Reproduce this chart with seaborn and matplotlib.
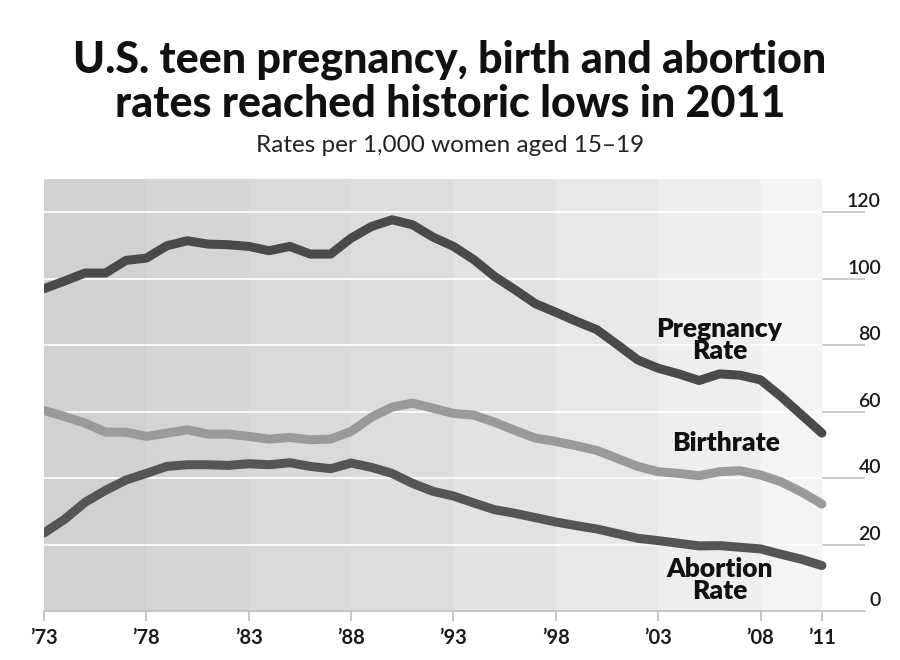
import numpy as np
import pandas as pd
import matplotlib
matplotlib.use("Agg")
import matplotlib.pyplot as plt
import matplotlib.transforms as mtransforms
import seaborn as sns

# ---------- DATA ----------
years = list(range(1973, 2012))

pregnancy = [97.0, 99.3, 101.7, 101.7, 105.5, 106.2, 109.9, 111.4, 110.4, 110.2,
             109.7, 108.4, 109.7, 107.4, 107.4, 112.2, 115.7, 117.7, 116.2, 112.5,
             109.7, 105.7, 100.7, 96.7, 92.5, 89.9, 87.2, 84.7, 80.2, 75.6,
             73.1, 71.4, 69.4, 71.4, 71.0, 69.6, 64.6, 59.1, 53.6]

birthrate = [60.4, 58.6, 56.6, 53.9, 53.9, 52.6, 53.6, 54.6, 53.3, 53.3,
             52.6, 51.8, 52.3, 51.6, 51.8, 54.1, 58.4, 61.4, 62.6, 61.1,
             59.5, 59.0, 56.9, 54.4, 52.1, 51.1, 49.8, 48.4, 46.0, 43.6,
             42.0, 41.5, 40.8, 42.0, 42.3, 41.0, 39.0, 35.9, 32.3]

abortion = [23.6, 27.7, 32.8, 36.4, 39.5, 41.5, 43.6, 44.1, 44.1, 43.9,
            44.4, 44.1, 44.7, 43.6, 42.9, 44.6, 43.3, 41.5, 38.5, 36.1,
            34.7, 32.6, 30.6, 29.5, 28.2, 26.9, 25.8, 24.8, 23.4, 22.0,
            21.3, 20.5, 19.7, 19.8, 19.3, 18.8, 17.2, 15.7, 13.8]

tick_years = [1973, 1978, 1983, 1988, 1993, 1998, 2003, 2008, 2011]
tick_labels = ["\u201973", "\u201978", "\u201983", "\u201988", "\u201993",
               "\u201998", "\u201903", "\u201908", "\u201911"]
y_ticks = [0, 20, 40, 60, 80, 100, 120]

band_edges = [1973, 1978, 1983, 1988, 1993, 1998, 2003, 2008, 2011]
band_colors = ["#d1d1d1", "#d5d5d5", "#d9d9d9", "#dddddd",
               "#e2e2e2", "#e8e8e8", "#eeeeee", "#f4f4f4"]

df = pd.DataFrame({"year": years, "Pregnancy": pregnancy,
                   "Birth": birthrate, "Abortion": abortion})

# ---------- STYLE ----------
sns.set_theme(style="white")
plt.rcParams["font.family"] = ["Lato", "DejaVu Sans"]

fig = plt.figure(figsize=(9, 6.6), dpi=100)
ax = fig.add_axes([0.049, 0.0735, 0.912, 0.6555])

XMAX = 2013.1
ax.set_xlim(1973, XMAX)
ax.set_ylim(0, 130)

# background bands
for i, c in enumerate(band_colors):
    ax.axvspan(band_edges[i], band_edges[i + 1], color=c, lw=0, zorder=0)

# gridlines: white over the bands, grey in the margin
for v in y_ticks[1:]:
    ax.hlines(v, 1973, 2011, color="white", lw=1.2, zorder=1)
    ax.hlines(v, 2011, XMAX, color="#c4c4c4", lw=1.2, zorder=1)

# ---------- LINES ----------
for col, color in [("Pregnancy", "#4a4a4a"), ("Birth", "#9a9a9a"), ("Abortion", "#555555")]:
    sns.lineplot(data=df, x="year", y=col, color=color, linewidth=6.5, ax=ax, zorder=3)
for ln in ax.get_lines():
    ln.set_solid_capstyle("round")
    ln.set_solid_joinstyle("round")

# ---------- AXES ----------
for s in ["top", "left", "right"]:
    ax.spines[s].set_visible(False)
ax.spines["bottom"].set_color("#bdbdbd")
ax.spines["bottom"].set_linewidth(1.2)

ax.set_xticks(tick_years)
ax.set_xticklabels(tick_labels)
ax.tick_params(axis="x", direction="out", length=7, width=1.2, color="#bdbdbd",
               pad=5, labelsize=14.5, labelcolor="#1a1a1a", bottom=True)
for lbl in ax.get_xticklabels():
    lbl.set_fontweight("bold")

ax.yaxis.tick_right()
ax.set_yticks(y_ticks)
ax.tick_params(axis="y", length=0, pad=0, labelsize=14, labelcolor="#1a1a1a")
shift = mtransforms.ScaledTranslation(0.16, 0.02, fig.dpi_scale_trans)
for lbl in ax.get_yticklabels():
    lbl.set_ha("right")
    lbl.set_va("bottom")
    lbl.set_fontweight("semibold")
    lbl.set_transform(lbl.get_transform() + shift)
ax.set_xlabel("")
ax.set_ylabel("")

# ---------- LABELS ----------
ax.text(2006.0, 81.5, "Pregnancy\nRate", ha="center", va="center", fontsize=19,
        fontweight="heavy", linespacing=0.9, color="#111111", zorder=4)
ax.text(2006.3, 50.5, "Birthrate", ha="center", va="center", fontsize=19,
        fontweight="heavy", color="#111111", zorder=4)
ax.text(2006.0, 9.5, "Abortion\nRate", ha="center", va="center", fontsize=19,
        fontweight="heavy", linespacing=0.9, color="#111111", zorder=4)

# ---------- TITLE ----------
fig.text(0.5, 1 - 40 / 660, "U.S. teen pregnancy, birth and abortion\nrates reached historic lows in 2011",
         ha="center", va="top", fontsize=31, fontweight="black", linespacing=1.1, color="#111111")
fig.text(0.5, 1 - 145 / 660, "Rates per 1,000 women aged 15\u201319", ha="center", va="center",
         fontsize=17.5, color="#222222")

fig.savefig("out.png", dpi=100, facecolor="white")
